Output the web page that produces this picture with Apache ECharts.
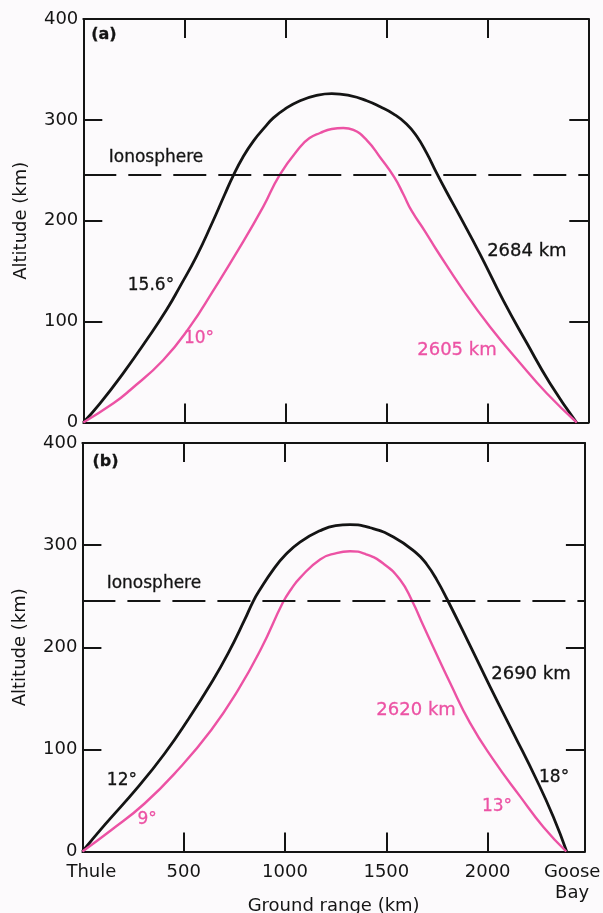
<!DOCTYPE html>
<html>
<head>
<meta charset="utf-8">
<script src="https://cdn.jsdelivr.net/npm/echarts@6/dist/echarts.min.js"></script>
<style>
html,body{margin:0;padding:0;background:#fcfafc;}
#chart{width:603px;height:913px;}
</style>
</head>
<body>
<div id="chart"></div>
<script>
// ---- data (ground range km, altitude km) ----
const blackA = [[0,0],[83,19],[198,49],[314,82],[413,112],[479,135],[561,165],[636,197],[700,226],[743,245],[790,263],[842,279],[900,293],[941,302],[1000,311],[1073,319],[1150,324],[1230,326],[1320,324],[1403,319],[1470,313],[1535,306],[1600,296],[1650,284],[1700,267],[1745,249],[1800,228],[1860,206],[1964,167],[2079,121],[2195,79],[2310,39],[2442,0]];
const pinkA = [[0,0],[149,19],[231,32],[396,62],[528,95],[644,131],[776,174],[891,214],[974,246],[1073,273],[1120,282],[1172,287],[1230,291],[1287,292],[1337,290],[1403,280],[1469,263],[1540,243],[1585,226],[1625,210],[1690,190],[1749,171],[1881,131],[2013,95],[2162,59],[2294,29],[2443,0]];
const blackB = [[0,0],[110,26],[274,63],[406,96],[521,129],[636,165],[719,194],[801,227],[843,245],[875,256],[942,276],[1000,290],[1074,303],[1172,314],[1250,319],[1321,320],[1420,317],[1535,308],[1650,292],[1700,281],[1749,266],[1800,247],[1905,205],[2013,161],[2127,116],[2242,70],[2324,34],[2390,0]];
const pinkB = [[0,0],[143,21],[307,47],[472,80],[636,119],[768,158],[883,199],[990,244],[1031,257],[1074,268],[1173,286],[1250,292],[1321,294],[1400,291],[1485,282],[1568,266],[1628,245],[1683,221],[1725,203],[1815,165],[1913,126],[2028,90],[2160,54],[2275,24],[2388,0]];
const ionosphereAlt = 246;
const altTickLabels = [0, 100, 200, 300, 400];
const kmTicks = [500, 1000, 1500, 2000];
const xLabelValues = [0, 500, 1000, 1500, 2000, 2417];
const xLabelTexts = ['Thule', '500', '1000', '1500', '2000', 'Goose\nBay'];
// annotations: [text, km, alt, kind]
const notesA = [['(a)', 102, 384, 'panel'], ['Ionosphere', 360, 263, 'black'], ['15.6°', 335, 136, 'black'], ['10°', 573, 83, 'pink'], ['2684 km', 2196, 170, 'black'], ['2605 km', 1850, 72, 'pink']];
const notesB = [['(b)', 114, 382, 'panel'], ['Ionosphere', 353, 262, 'black'], ['12°', 195, 69, 'black'], ['9°', 319, 31, 'pink'], ['2690 km', 2214, 173, 'black'], ['2620 km', 1647, 138, 'pink'], ['18°', 2328, 72, 'black'], ['13°', 2046, 44, 'pink']];

// ---- styles ----
const FONT = 'DejaVu Sans';
const INK = '#141414';
const PINK = '#ec52a4';

const chart = echarts.init(document.getElementById('chart'), null, {renderer: 'canvas'});

function xAxis(grid, pos, max, labels) {
  return {
    type: 'value', gridIndex: grid, position: pos, min: 0, max: max, interval: 500,
    axisLine: {show: true, onZero: false, lineStyle: {color: INK, width: 2}},
    axisTick: {show: true, inside: true, length: 19, customValues: kmTicks, lineStyle: {color: INK, width: 2}},
    splitLine: {show: false},
    axisLabel: labels ? {
      show: true, customValues: xLabelValues, margin: 10, color: INK, fontFamily: FONT, fontSize: 18, lineHeight: 21,
      formatter: function (v) {
        const i = xLabelValues.indexOf(v);
        if (i === 0) return '{t|' + xLabelTexts[0] + '}';
        return i >= 0 ? xLabelTexts[i] : '';
      },
      rich: {t: {padding: [0, 0, 0, 18], color: INK, fontFamily: FONT, fontSize: 18, lineHeight: 21}}
    } : {show: false},
    name: labels ? 'Ground range (km)' : '', nameLocation: 'middle', nameGap: 46, nameMoveOverlap: false,
    nameTextStyle: {color: INK, fontFamily: FONT, fontSize: 18}
  };
}
function yAxis(grid, pos, labels) {
  return {
    type: 'value', gridIndex: grid, position: pos, min: 0, max: 400, interval: 100,
    axisLine: {show: true, onZero: false, lineStyle: {color: INK, width: 2}},
    axisTick: {show: true, inside: true, length: 19, lineStyle: {color: INK, width: 2}},
    splitLine: {show: false},
    axisLabel: labels ? {show: true, margin: 5, color: INK, fontFamily: FONT, fontSize: 18,
      formatter: function (v) { return altTickLabels.indexOf(v) >= 0 ? String(v) : ''; }} : {show: false},
    name: labels ? 'Altitude (km)' : '', nameLocation: 'middle', nameGap: 53, nameMoveOverlap: false,
    nameTextStyle: {color: INK, fontFamily: FONT, fontSize: 18}
  };
}
function curve(data, color, width, xi, yi, withIono) {
  const s = {
    type: 'line', data: data, xAxisIndex: xi, yAxisIndex: yi, smooth: 0.5, showSymbol: false,
    lineStyle: {color: color, width: width}, z: 3
  };
  if (withIono) {
    s.markLine = {silent: true, symbol: 'none', label: {show: false},
      lineStyle: {color: INK, width: 2, type: [33, 12]},
      data: [{yAxis: ionosphereAlt}]};
  }
  return s;
}
function notes(list, xi, yi) {
  return {
    type: 'scatter', xAxisIndex: xi, yAxisIndex: yi, symbolSize: 0, z: 5, silent: true,
    itemStyle: {opacity: 1},
    data: list.map(function (n) {
      const panel = n[3] === 'panel';
      const col = n[3] === 'pink' ? PINK : INK;
      return {value: [n[1], n[2]], itemStyle: {opacity: 1}, label: {
        show: true, position: 'inside', formatter: n[0], opacity: 1,
        color: col, fontFamily: FONT, textBorderColor: col, textBorderWidth: 0.3,
        fontSize: panel ? 16 : (n[0].indexOf('km') >= 0 ? 18 : 17), fontWeight: panel ? 'bold' : 'normal'
      }};
    })
  };
}

chart.setOption({
  backgroundColor: '#fcfafc',
  animation: false,
  grid: [
    {left: 83.3, top: 19, width: 505, height: 403.5, containLabel: false, outerBoundsMode: 'none'},
    {left: 82.4, top: 443, width: 502.5, height: 408.5, containLabel: false, outerBoundsMode: 'none'}
  ],
  xAxis: [xAxis(0, 'bottom', 2500, false), xAxis(0, 'top', 2500, false), xAxis(1, 'bottom', 2480, true), xAxis(1, 'top', 2480, false)],
  yAxis: [yAxis(0, 'left', true), yAxis(0, 'right', false), yAxis(1, 'left', true), yAxis(1, 'right', false)],
  series: [
    curve(blackA, INK, 2.8, 0, 0, true),
    curve(pinkA, PINK, 2.4, 0, 0, false),
    curve(blackB, INK, 2.8, 2, 2, true),
    curve(pinkB, PINK, 2.4, 2, 2, false),
    notes(notesA, 0, 0),
    notes(notesB, 2, 2)
  ]
});
</script>
</body>
</html>
